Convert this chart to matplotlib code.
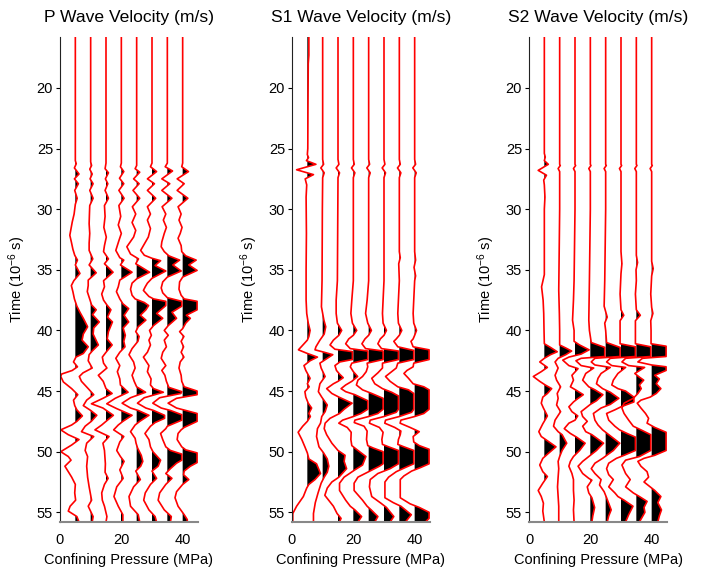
import numpy as np
import matplotlib
matplotlib.use('Agg')
import matplotlib.pyplot as plt

plt.rcParams.update({
    'font.family':      ['Liberation Sans', 'DejaVu Sans'],
    'font.size':        10.5,
    'mathtext.default': 'regular',
    'figure.facecolor': 'white',
    'axes.facecolor':   'white',
})

# confining pressure of each trace (MPa)
PRESSURES = [5, 10, 15, 20, 25, 30, 35, 40]

# ── P wave traces: (time in 1e-6 s, amplitude in MPa units) ────────────────
P_05 = [(15.8, 0), (26.0, 0), (26.25, 0.3), (26.6, -0.3), (27.1, 1.2), (27.5, -0.3), (27.9, 1.0), (28.45, -0.2),
        (29.1, 0.6), (29.6, 0), (30.4, -0.4), (31.05, -1.0), (31.6, -1.4), (32.15, -1.8), (32.7, -1.3), (33.3, -0.8),
        (33.8, -0.2), (34.2, 0.7), (34.6, 0), (35.3, 1.5), (35.9, -0.5), (36.3, -1.3), (36.8, -0.8), (37.4, -0.3),
        (38.0, 0.5), (38.5, 1.5), (39.0, 2.6), (39.7, 4.0), (40.3, 2.6), (40.8, 2.2), (41.35, 4.2), (41.9, 2.6),
        (42.2, 0.2), (42.6, -0.6), (43.0, 0.7), (43.3, -1.0), (43.6, -4.5), (43.8, -5.5), (44.25, -3.9), (44.8, -1.2),
        (45.3, 0.8), (45.75, -0.6), (46.2, -0.2), (46.55, 0.5), (47.05, 2.3), (47.5, 0.5), (47.8, -1.2), (48.2, -5.0),
        (48.6, -2.3), (49.0, 1.2), (49.45, -1.2), (50.0, -5.0), (50.4, -2.3), (50.7, -1.4), (51.2, -3.4), (52.1, -1.2),
        (52.7, 0), (53.4, -0.2), (54.0, 0.1), (54.5, -1.7), (54.9, -2.3), (55.35, 0.5), (55.8, 1.2)]
P_10 = [(15.8, 0), (26.1, 0), (26.4, 0.3), (26.7, -0.3), (27.1, 0.5), (27.5, -0.2), (27.9, 0.8), (28.45, -0.3),
        (29.1, 0.8), (29.7, -0.3), (30.4, -0.4), (31.2, -0.5), (32.0, -0.3), (32.8, -0.5), (33.4, -0.5), (34.1, 0.7),
        (34.6, -0.5), (35.25, 1.8), (35.85, -0.8), (36.3, -0.8), (36.8, -1.1), (37.5, -0.2), (37.9, 0.3), (38.3, 1.8),
        (38.7, 0.6), (39.3, 2.8), (39.8, 1.0), (40.3, 0.8), (41.2, 2.5), (41.7, 0.5), (42.0, -0.5), (42.5, -0.8),
        (43.1, 0.5), (43.5, -2.5), (43.8, -3.7), (44.2, -3.0), (44.8, -0.8), (45.3, 1.0), (45.75, -1.3), (46.2, -2.4),
        (46.6, 0), (47.0, 2.0), (47.5, 0.2), (47.9, -1.8), (48.35, -3.0), (48.75, 1.0), (49.3, -1.3), (49.9, -1.8),
        (50.4, -1.0), (51.2, -1.3), (52.1, -1.0), (52.9, -0.5), (54.0, 0.3), (54.5, -0.8), (55.35, 0.8), (55.8, 0.5)]
P_15 = [(15.8, 0), (26.2, 0), (26.66, -0.3), (27.0, 0.8), (27.5, -0.2), (27.9, 0.6), (28.45, -0.3), (29.1, 0.8),
        (29.7, -0.5), (30.6, -0.3), (31.5, -0.7), (32.3, 0.1), (33.0, -0.5), (33.5, -0.8), (34.1, 0.8), (34.5, -0.5),
        (35.2, 2.3), (35.9, -0.8), (36.4, -0.5), (37.0, -1.4), (37.5, -0.8), (37.9, 0.3), (38.3, 1.6), (38.9, 0.5),
        (39.3, 2.1), (40.1, 0.8), (40.7, 0.4), (41.2, 2.0), (41.8, 0), (42.2, -1.2), (42.7, -0.8), (43.1, 0.3),
        (43.7, -2.5), (44.2, -0.9), (44.8, 0), (45.2, 2.0), (45.6, -1.0), (46.05, -5.0), (46.4, -1.0), (47.0, 2.4),
        (47.5, 0), (47.8, -1.4), (48.2, -3.6), (48.75, 1.0), (49.3, -1.0), (49.9, -0.5), (51.0, -0.2), (51.7, -0.3),
        (52.2, 0.7), (52.7, -0.5), (53.4, -1.4), (54.0, -1.2), (54.5, -0.5), (55.35, 0.3), (55.8, 0)]
P_20 = [(15.8, 0), (26.2, 0), (26.5, -0.3), (26.9, 0.8), (27.45, -0.6), (27.9, 0.8), (28.45, -0.8), (29.1, 0.9),
        (29.7, -0.8), (30.6, -0.2), (31.3, -1.0), (32.0, 0), (32.6, -0.8), (33.4, -1.8), (34.0, -0.5), (34.2, 0.8),
        (34.6, -0.3), (35.2, 3.5), (35.85, -0.5), (36.4, -1.0), (36.8, -1.6), (37.4, -0.5), (37.8, 0.5), (38.2, 2.4),
        (38.75, 0.9), (39.3, 2.4), (39.8, 0.6), (40.4, 1.3), (40.9, 0.8), (41.35, 1.2), (41.8, -0.5), (42.3, -1.8),
        (42.9, -0.5), (43.4, -1.3), (44.0, -0.5), (44.5, -0.3), (45.1, 2.2), (45.6, -2.0), (46.05, -5.0), (46.45, -1.5),
        (47.0, 3.5), (47.5, 0.5), (47.8, -1.0), (48.2, -2.5), (48.75, 0.8), (49.2, -0.5), (49.9, -1.5), (50.4, -0.3),
        (50.8, 0.9), (51.5, -0.5), (52.2, 0.6), (52.9, -1.5), (53.7, -2.4), (54.5, -1.0), (55.2, 0.5), (55.8, 0.5)]
P_25 = [(15.8, 0), (26.4, 0), (26.66, -0.5), (26.95, 1.0), (27.5, -1.0), (27.9, 0.8), (28.45, -1.2), (29.1, 1.0),
        (29.8, -1.4), (30.4, -0.3), (31.1, -1.5), (31.75, -0.3), (32.3, -1.0), (33.1, -3.2), (33.7, -2.0), (34.1, 0.6),
        (34.5, -0.3), (35.2, 4.2), (35.75, 0), (36.1, -1.5), (36.6, -2.0), (37.1, -1.5), (37.4, -0.5), (37.7, 2.5),
        (37.95, 3.9), (38.3, 3.0), (38.75, 1.2), (39.15, 3.0), (39.7, 0.5), (40.1, -0.3), (40.5, 0.8), (40.9, 0.4),
        (41.5, -1.5), (42.0, -2.5), (42.6, -1.0), (43.1, -0.5), (43.7, -1.5), (44.2, -0.8), (44.65, 0), (45.1, 2.9),
        (45.55, -2.0), (46.0, -5.0), (46.4, -2.0), (46.6, 0.5), (47.0, 4.0), (47.5, 1.0), (47.8, -0.5), (48.35, -2.0),
        (48.9, -0.5), (49.3, -0.2), (49.7, 0.3), (50.3, 1.5), (50.8, 2.0), (51.2, 1.3), (51.6, -0.3), (52.3, 1.2),
        (52.9, -1.0), (53.7, -2.5), (54.5, -2.0), (55.2, 0.5), (55.8, 1.0)]
P_30 = [(15.8, 0), (26.2, 0), (26.5, -0.5), (26.9, 1.5), (27.5, -1.5), (27.9, 0.8), (28.45, -1.5), (29.1, 1.2),
        (29.8, -1.5), (30.4, -0.5), (30.9, -1.5), (31.6, -0.5), (32.3, -1.2), (33.4, -3.7), (33.8, -2.5), (34.05, 0),
        (34.25, 2.8), (34.65, 1.0), (35.1, 4.5), (35.7, 0), (36.1, -1.5), (36.4, -2.2), (36.7, -2.8), (37.2, -1.0),
        (37.4, 0.5), (37.6, 4.5), (37.95, 4.5), (38.6, 1.5), (39.0, 3.5), (39.6, 0.5), (40.0, -0.8), (40.4, -0.2),
        (40.8, -1.0), (41.2, -0.5), (41.8, -1.5), (42.2, -2.8), (42.9, -1.0), (43.4, -1.5), (44.0, -0.3), (44.5, -0.5),
        (44.8, 0.5), (45.1, 3.7), (45.55, -2.5), (46.0, -5.0), (46.4, -2.0), (46.6, 0.5), (47.0, 4.1), (47.25, 4.1),
        (47.6, 1.0), (47.9, -0.5), (48.5, -2.3), (49.0, -1.0), (49.6, -0.5), (50.0, 0.3), (50.7, 2.8), (51.2, 2.0),
        (51.6, 0), (52.2, 1.5), (52.7, -0.5), (53.4, -2.2), (54.0, -2.7), (54.8, -1.0), (55.35, 1.0), (55.8, 1.5)]
P_35 = [(15.8, 0), (26.2, 0), (26.5, -0.7), (26.85, 1.7), (27.5, -1.8), (27.9, 0.8), (28.45, -1.8), (29.1, 1.5),
        (29.8, -1.7), (30.4, -0.5), (30.9, -1.3), (31.5, -0.3), (32.0, -1.0), (32.7, -1.8), (33.1, -2.0), (33.5, -1.0),
        (33.85, 0.5), (34.2, 4.0), (34.6, 1.8), (35.1, 4.5), (35.6, 0), (36.0, -1.5), (36.5, -2.0), (36.9, -1.5),
        (37.3, 0), (37.6, 4.7), (38.0, 4.7), (38.5, 1.5), (39.0, 3.0), (39.6, 0.3), (40.0, -1.0), (40.4, 0.3),
        (40.8, -1.0), (41.35, -0.3), (41.8, -1.5), (42.3, -2.0), (42.9, -0.5), (43.3, -1.8), (43.7, -0.8), (44.2, -0.3),
        (44.7, 0.5), (45.05, 4.7), (45.2, 4.4), (45.55, -2.5), (46.0, -5.0), (46.4, -2.0), (46.6, 1.0), (46.95, 4.7),
        (47.4, 4.7), (47.9, 0), (48.1, -0.5), (48.5, -2.2), (49.0, -1.5), (49.6, -0.5), (49.9, 1.0), (50.2, 4.7),
        (50.7, 4.7), (50.95, 3.0), (51.4, 1.0), (51.8, -0.5), (52.2, 1.5), (52.7, -0.5), (53.4, -2.5), (54.0, -3.0),
        (54.8, -1.0), (55.35, 1.3), (55.8, 1.0)]
P_40 = [(15.8, 0), (26.2, 0), (26.5, -0.3), (26.9, 1.9), (27.5, -1.8), (27.9, 0.5), (28.45, -1.8), (29.1, 1.7),
        (29.8, -1.5), (30.4, -0.5), (30.9, -1.2), (31.5, -0.2), (32.0, -0.8), (32.4, -1.5), (33.0, -0.5), (33.5, -0.3),
        (33.85, 1.0), (34.2, 4.4), (34.6, 2.0), (35.05, 4.7), (35.6, 0), (36.0, -1.0), (36.6, -1.2), (37.1, -0.5),
        (37.4, 0.5), (37.6, 4.7), (38.3, 4.7), (38.75, 1.2), (39.0, 2.5), (39.4, 1.0), (39.85, 0), (40.1, -1.0),
        (40.5, 0.4), (40.9, -0.5), (41.35, 0.3), (41.8, -0.5), (42.2, 0.4), (42.6, -0.8), (43.1, -1.2), (43.7, -0.5),
        (44.2, -0.3), (44.65, 0.5), (45.0, 4.7), (45.3, 4.7), (45.6, -2.0), (46.0, -5.0), (46.4, -2.0), (46.6, 1.0),
        (46.85, 4.7), (47.5, 4.7), (48.0, 0.5), (48.2, -0.5), (48.5, -1.5), (49.0, -1.8), (49.6, -0.3), (49.85, 1.0),
        (50.1, 4.7), (50.9, 4.7), (51.2, 2.5), (51.6, 0.5), (51.9, 0.3), (52.3, 2.0), (52.7, 0), (53.3, -2.0),
        (53.8, -2.5), (54.5, -1.5), (55.2, 0.5), (55.6, 1.5), (55.8, 1.5)]

# ── S1 wave traces ─────────────────────────────────────────────────────────
S1_05 = [(15.8, 0.5), (17.3, 0.5), (18.0, 0.3), (22.0, 0.2), (25.0, 0.15), (25.5, 0), (25.75, 0.4), (26.0, -0.3),
         (26.3, 2.8), (26.75, -3.5), (27.15, 2.0), (27.5, -0.7), (28.0, -0.2), (29.0, -0.4), (32.0, -0.3), (35.0, -0.4),
         (37.5, -0.4), (38.6, -0.2), (39.4, 0.3), (40.0, 0.9), (40.5, 0.5), (40.8, 0), (41.3, -1.8), (41.6, -2.9),
         (41.9, 0), (42.2, 3.3), (42.5, 0.9), (42.9, -1.1), (43.3, -0.5), (43.95, 0.9), (44.4, 0), (44.65, 0.6),
         (45.05, -0.8), (45.5, -0.5), (46.0, 0.3), (46.4, 1.4), (46.85, 0.5), (47.1, 1.0), (47.5, 0), (47.9, -1.5),
         (48.4, -3.0), (49.0, -1.8), (49.6, -0.8), (50.1, 0), (50.6, 0.5), (51.0, 3.0), (51.8, 4.3), (52.3, 2.5),
         (52.7, 0.5), (53.0, -0.2), (53.7, -1.3), (54.5, -3.5), (55.1, -5.1), (55.8, -5.5)]
S1_10 = [(15.8, 0), (25.9, 0), (26.3, 0.3), (26.6, -0.6), (27.0, 0.5), (27.4, 0), (30.0, -0.1), (35.86, -0.2),
         (38.05, -0.4), (39.15, 0.4), (39.7, 1.0), (40.3, 0.5), (40.8, -0.9), (41.35, -2.2), (41.6, -2.5), (41.8, 0.5),
         (42.0, 3.3), (42.3, 1.5), (42.7, -0.9), (43.1, -0.5), (43.8, 0.8), (44.4, -0.9), (45.05, -1.4), (45.5, -0.3),
         (46.15, 1.5), (46.7, 0.8), (47.1, -0.3), (47.65, -0.7), (48.1, -1.7), (48.75, -2.0), (49.6, -1.2), (50.1, 0.3),
         (50.6, 1.5), (51.2, 2.0), (51.7, 1.5), (52.1, 0.5), (52.6, -0.5), (53.4, -1.5), (54.2, -2.4), (55.1, -3.0),
         (55.8, -3.0)]
S1_15 = [(15.8, 0), (25.9, 0), (26.3, 0.3), (26.6, -0.6), (27.0, 0.5), (27.4, 0), (35.9, -0.2), (37.5, -0.6),
         (38.6, -0.6), (39.4, -0.2), (40.0, 1.2), (40.4, 0.3), (40.8, -1.5), (41.2, -2.6), (41.55, -1.0), (41.75, 4.7),
         (42.4, 4.7), (42.6, 0.6), (42.9, -1.0), (43.3, -0.5), (43.6, 0.5), (43.9, 1.7), (44.2, 0), (44.4, -1.5),
         (44.8, -3.7), (45.2, -2.0), (45.5, 0.3), (46.0, 4.6), (46.5, 2.0), (46.85, 0.5), (47.25, -2.6), (47.65, -4.2),
         (48.1, -4.5), (48.6, -3.7), (49.3, -2.0), (49.9, 0), (50.3, 2.3), (50.8, 2.0), (51.4, 2.8), (52.1, 0.3),
         (52.5, -2.0), (53.0, -3.5), (53.6, -4.3), (54.5, -1.5), (55.1, -0.3), (55.5, 1.0), (55.8, 0.5)]
S1_20 = [(15.8, 0), (25.9, 0), (26.3, 0.3), (26.6, -0.6), (27.0, 0.5), (27.4, 0), (35.9, 0), (37.5, -0.5),
         (38.6, -0.8), (39.4, -0.3), (40.0, 1.1), (40.4, 0), (40.7, -1.5), (41.1, -2.5), (41.5, -1.0), (41.7, 4.7),
         (42.4, 4.7), (42.7, -0.5), (43.0, -1.0), (43.4, 0), (43.8, 1.4), (44.2, -0.5), (44.5, -2.5), (44.8, -4.0),
         (45.05, -2.5), (45.3, 0.5), (45.8, 4.7), (46.5, 4.7), (46.85, 2.5), (47.1, 0), (47.4, -3.5), (47.65, -4.9),
         (48.0, -2.0), (48.4, -0.7), (49.0, -0.8), (49.5, -0.5), (49.8, 1.0), (50.4, 4.1), (51.1, 3.0), (51.5, 0.5),
         (52.1, -3.0), (52.6, -4.5), (53.2, -4.5), (54.0, -2.5), (54.5, -1.0), (54.8, 0.5), (55.35, 2.7), (55.8, 1.5)]
S1_25 = [(15.8, 0), (25.9, 0), (26.3, 0.3), (26.6, -0.6), (27.0, 0.5), (27.4, 0), (35.9, 0), (37.5, -0.5),
         (38.6, -1.0), (39.4, -0.3), (40.0, 0.9), (40.4, 0), (40.7, -1.2), (41.1, -2.2), (41.5, -1.0), (41.7, 4.7),
         (42.4, 4.7), (42.7, -0.5), (43.0, -0.3), (43.4, -0.8), (43.8, -2.0), (44.1, -3.5), (44.5, -4.0), (44.9, -2.0),
         (45.2, 1.0), (45.6, 4.7), (46.5, 4.7), (46.85, 3.0), (47.1, 0), (47.4, -4.5), (47.6, -4.7), (47.9, -1.5),
         (48.3, -0.5), (49.0, -0.7), (49.5, -0.3), (49.7, 1.5), (50.0, 4.7), (51.0, 4.7), (51.2, 3.5), (51.65, 0),
         (52.1, -3.5), (52.6, -5.0), (53.2, -4.8), (54.0, -2.0), (54.5, -0.5), (54.8, 0.8), (55.35, 3.0), (55.8, 2.0)]
S1_30 = [(15.8, 0), (25.9, 0), (26.3, 0.3), (26.6, -0.6), (27.0, 0.5), (27.4, 0), (35.9, 0), (37.5, -0.3),
         (38.6, -0.5), (39.4, -0.3), (40.0, 0.8), (40.4, 0), (40.7, -1.2), (41.1, -2.0), (41.5, -0.8), (41.7, 4.7),
         (42.4, 4.7), (42.7, -0.5), (43.1, -0.5), (43.5, -2.0), (43.95, -4.0), (44.4, -3.0), (44.8, -0.5), (45.1, 2.5),
         (45.4, 4.7), (46.5, 4.7), (46.75, 4.0), (47.1, 0), (47.4, -4.5), (47.65, -5.5), (48.0, -1.5), (48.4, -0.3),
         (49.0, -0.7), (49.4, -0.5), (49.6, 1.5), (49.9, 4.7), (51.0, 4.7), (51.4, 2.0), (51.8, -2.0), (52.3, -4.5),
         (52.9, -5.0), (53.7, -4.0), (54.25, -1.0), (54.6, 0.8), (55.35, 3.2), (55.8, 2.0)]
S1_35 = [(15.8, 0), (25.9, 0), (26.3, 0.3), (26.6, -0.6), (27.0, 0.5), (27.4, 0), (33.5, 0), (34.0, 0.3),
         (34.5, -0.2), (35.9, 0), (37.5, -0.3), (38.6, -0.5), (39.4, -0.3), (40.0, 0.8), (40.4, 0), (40.7, -1.0),
         (40.9, -1.8), (41.35, -0.5), (41.65, 4.7), (42.4, 4.7), (42.7, -0.5), (43.1, -1.0), (43.5, -3.0), (43.8, -4.5),
         (44.2, -3.0), (44.65, -0.5), (44.9, 3.0), (45.2, 4.7), (46.5, 4.7), (46.75, 4.0), (47.1, 0), (47.4, -4.5),
         (47.65, -5.5), (48.0, -1.5), (48.3, 0.5), (48.6, 0.3), (49.0, -0.3), (49.4, -0.5), (49.6, 1.5), (49.9, 4.7),
         (51.0, 4.7), (51.3, 2.0), (51.65, -1.0), (52.1, -3.5), (52.5, -4.7), (53.8, -4.7), (54.2, -2.0), (54.5, 0.5),
         (55.2, 3.9), (55.8, 2.0)]
S1_40 = [(15.8, 0), (25.9, 0), (26.3, 0.3), (26.6, -0.6), (27.0, 0.5), (27.4, 0), (33.5, 0), (34.2, 0.3),
         (34.8, -0.2), (35.5, 0.3), (35.9, 0), (37.5, -0.3), (38.6, -0.5), (39.4, -0.3), (40.0, 0.6), (40.4, 0),
         (40.7, -0.5), (40.9, -1.2), (41.35, -0.5), (41.6, 4.7), (42.4, 4.7), (42.7, -0.3), (43.0, -0.5), (43.3, -2.5),
         (43.55, -3.5), (43.95, -2.0), (44.4, -0.5), (44.65, 3.0), (44.9, 4.7), (46.5, 4.7), (46.85, 3.0), (47.1, 0),
         (47.4, -4.5), (47.65, -5.5), (48.0, -1.5), (48.35, 1.5), (48.75, -0.5), (49.2, -0.3), (49.5, 1.5), (49.8, 4.7),
         (51.0, 4.7), (51.3, 2.0), (51.6, -1.0), (52.0, -3.5), (52.3, -4.7), (53.8, -4.7), (54.3, -1.5), (54.6, 1.5),
         (55.0, 4.7), (55.5, 4.7), (55.8, 3.5)]

# ── S2 wave traces ─────────────────────────────────────────────────────────
S2_05 = [(15.8, 0), (25.4, 0), (25.7, 0.3), (26.0, 0), (26.3, 1.3), (26.8, -2.0), (27.2, 0.7), (27.6, -0.2),
         (28.0, 0), (29.0, 0.2), (30.0, 0), (35.4, 0), (36.4, -0.9), (37.5, -0.4), (38.6, -0.2), (40.0, -0.1),
         (41.1, 0), (41.4, 2.0), (41.76, 4.2), (42.0, 2.0), (42.3, 0), (42.6, -1.5), (43.05, 1.0), (43.4, -1.0),
         (43.8, -3.6), (44.2, -1.5), (44.5, 0.3), (44.8, 2.4), (45.2, 1.0), (45.5, -0.5), (46.0, -1.0), (46.4, -0.3),
         (46.7, 0.3), (47.05, 1.0), (47.4, 0.2), (47.7, -0.5), (48.35, -1.8), (48.75, -1.0), (49.1, 1.0), (49.6, 3.8),
         (50.1, 1.5), (50.55, -0.5), (51.1, -1.5), (51.65, -0.5), (52.05, 1.0), (52.6, -0.5), (53.2, -2.0), (53.7, -1.0),
         (54.25, -0.3), (54.9, -0.5), (55.8, 0)]
S2_10 = [(15.8, 0), (26.3, 0), (26.4, 0.2), (26.65, -0.5), (26.9, 0), (30.0, 0), (36.7, -0.3), (38.6, -0.1),
         (40.0, 0), (41.2, 0), (41.45, 2.0), (41.7, 3.9), (42.0, 2.0), (42.3, -0.5), (42.6, -1.5), (43.1, -0.5),
         (43.7, -1.5), (44.1, -1.0), (44.65, 0.3), (45.2, -0.8), (45.6, -0.5), (46.15, -1.0), (46.7, 0.3), (47.4, -1.5),
         (47.9, -2.0), (48.35, -0.5), (48.6, 0.8), (49.3, 2.3), (49.9, 0.8), (50.4, 0), (50.8, -0.5), (51.4, -0.3),
         (52.1, -0.5), (52.9, -0.7), (53.7, -0.5), (54.5, -0.3), (55.8, -0.3)]
S2_15 = [(15.8, 0), (26.3, 0), (26.4, 0.2), (26.65, -0.5), (26.9, 0), (30.0, 0), (35.9, -0.3), (37.5, -0.5),
         (39.15, -0.8), (40.0, -0.3), (40.9, -0.3), (41.2, 1.5), (41.6, 4.6), (41.95, 2.0), (42.2, -2.0), (42.45, -4.0),
         (42.9, -2.0), (43.15, 1.0), (43.7, -1.0), (44.1, -0.5), (44.65, -1.5), (44.95, 0.5), (45.3, 2.7), (45.7, 0.5),
         (45.9, -0.5), (46.3, -2.0), (46.7, -1.0), (47.05, 0.9), (47.4, 0), (47.65, -2.0), (48.1, -3.5), (48.5, -1.5),
         (48.8, 0.5), (49.3, 3.3), (49.9, 1.5), (50.4, -0.5), (50.8, -1.5), (51.2, -2.0), (51.8, -1.0), (52.3, -0.5),
         (53.2, -0.5), (54.0, -0.3), (54.8, -0.5), (55.8, -0.3)]
S2_20 = [(15.8, 0), (26.3, 0), (26.4, 0.2), (26.65, -0.5), (26.9, 0), (30.0, 0), (35.9, -0.3), (39.15, -0.5),
         (40.0, -0.3), (41.0, 0.3), (41.4, 4.7), (42.15, 4.7), (42.3, -3.0), (42.5, -4.7), (42.9, -3.0), (43.1, 1.1),
         (43.55, -1.5), (44.1, -2.5), (44.65, -0.5), (44.9, 1.5), (45.3, 4.1), (45.8, 2.0), (46.1, 0), (46.3, -1.0),
         (46.7, -3.0), (47.1, -2.5), (47.5, -1.0), (47.9, -2.5), (48.35, -1.5), (48.6, 0.5), (49.3, 4.3), (49.9, 2.0),
         (50.4, -0.5), (50.8, -2.5), (51.2, -4.0), (51.8, -2.5), (52.2, -0.5), (52.35, 0.5), (52.9, -1.0), (53.4, -0.5),
         (53.8, 0.5), (54.6, 1.4), (55.3, 0.8), (55.8, 0.5)]
S2_25 = [(15.8, 0), (26.3, 0), (26.4, 0.2), (26.65, -0.5), (26.9, 0), (30.0, 0), (35.9, -0.3), (38.0, -0.5),
         (38.9, 0.5), (39.4, -0.3), (40.0, 0), (41.0, 0.3), (41.4, 4.7), (42.15, 4.7), (42.3, -3.5), (42.6, -4.7),
         (42.85, -3.5), (43.05, 1.5), (43.55, -1.5), (43.95, -2.5), (44.4, -3.0), (44.8, -1.0), (45.1, 1.5), (45.6, 4.3),
         (46.1, 1.5), (46.4, -1.5), (46.85, -4.0), (47.4, -3.5), (47.8, -2.5), (48.2, -1.0), (48.5, 0.5), (49.3, 4.6),
         (49.9, 2.5), (50.55, -1.0), (50.95, -3.5), (51.4, -4.7), (51.8, -3.5), (52.3, -1.5), (52.75, -2.0), (53.3, -0.5),
         (53.8, 0.3), (54.8, 1.8), (55.3, 1.0), (55.8, 0.5)]
S2_30 = [(15.8, 0), (26.3, 0), (26.4, 0.2), (26.65, -0.5), (26.9, 0), (30.0, 0), (33.5, 0), (34.5, 0.3),
         (35.3, 0), (37.0, -0.3), (38.3, 0), (38.75, 0.9), (39.2, -0.3), (40.0, -0.3), (41.1, -0.3), (41.35, 4.7),
         (42.15, 4.7), (42.3, -3.5), (42.6, -4.7), (42.9, -3.0), (43.05, 1.5), (43.55, -1.0), (44.1, -2.5), (44.5, -3.0),
         (44.8, -1.0), (45.0, 1.5), (45.5, 4.2), (45.9, 4.2), (46.3, 0), (46.55, -2.0), (46.85, -4.7), (47.4, -4.0),
         (47.9, -2.0), (48.2, -0.5), (48.5, 2.0), (48.8, 4.7), (49.9, 4.7), (50.3, 1.0), (50.55, -1.5), (50.95, -4.0),
         (51.4, -4.7), (51.9, -4.0), (52.3, -2.5), (52.9, -4.0), (53.4, -2.0), (53.7, -1.0), (54.0, 1.0), (54.5, 3.9),
         (55.2, 2.5), (55.8, 1.5)]
S2_35 = [(15.8, 0), (26.3, 0), (26.4, 0.2), (26.65, -0.5), (26.9, 0), (30.0, 0), (33.8, 0), (34.4, 0.4),
         (35.0, -0.1), (35.9, 0), (37.0, -0.3), (38.3, 0), (38.75, 1.3), (39.2, -0.3), (40.0, -0.3), (41.1, -0.3),
         (41.35, 4.7), (42.15, 4.7), (42.3, -3.5), (42.6, -4.7), (42.9, -2.5), (43.05, 2.7), (43.55, -0.5), (43.85, 1.0),
         (44.1, 2.4), (44.5, 1.0), (44.8, 1.6), (45.2, 0.5), (45.6, -1.0), (46.0, -4.0), (46.4, -4.7), (46.85, -4.0),
         (47.4, -2.5), (47.9, -1.0), (48.2, 1.5), (48.6, 4.7), (49.9, 4.7), (50.4, 1.0), (50.7, -3.5), (51.1, -4.7),
         (51.8, -3.5), (52.3, -2.0), (52.9, -3.5), (53.4, -1.0), (53.7, 1.0), (54.1, 3.5), (54.6, 2.5), (55.0, 2.8),
         (55.8, 1.0)]
S2_40 = [(15.8, 0), (26.3, 0), (26.4, 0.2), (26.65, -0.5), (26.9, 0), (30.0, 0), (34.3, 0), (34.9, 0.5),
         (35.5, 0), (37.0, -0.3), (38.1, 0), (38.6, 0.4), (39.2, -0.3), (40.0, -0.2), (41.1, -0.2), (41.3, 4.7),
         (42.15, 4.7), (42.3, -3.0), (42.6, -4.5), (42.85, 0), (43.0, 4.7), (43.3, 4.7), (43.7, 1.0), (44.0, 2.5),
         (44.4, 1.5), (44.8, 3.0), (45.2, 1.5), (45.5, -0.5), (45.75, -3.5), (46.0, -4.7), (46.4, -3.5), (46.85, -2.0),
         (47.25, -1.0), (47.65, -1.5), (48.0, 1.0), (48.4, 4.7), (49.9, 4.7), (50.3, 1.0), (50.55, -2.5), (50.8, -4.5),
         (51.2, -3.5), (51.65, -1.5), (52.1, -1.0), (52.5, -2.5), (52.9, -0.5), (53.2, 1.0), (53.7, 3.0), (54.2, 2.0),
         (54.8, 3.2), (55.3, 2.5), (55.8, 2.0)]

P_TRACES = [P_05, P_10, P_15, P_20, P_25, P_30, P_35, P_40]
S1_TRACES = [S1_05, S1_10, S1_15, S1_20, S1_25, S1_30, S1_35, S1_40]
S2_TRACES = [S2_05, S2_10, S2_15, S2_20, S2_25, S2_30, S2_35, S2_40]

TITLES = ['P Wave Velocity (m/s)', 'S1 Wave Velocity (m/s)', 'S2 Wave Velocity (m/s)']
CLIP = 4.75   # wiggle amplitude clip (MPa units)

W, H = 703, 576
fig = plt.figure(figsize=(W / 100, H / 100), dpi=100)
lefts = [60, 292, 529]


def draw_panel(ax, traces, title):
    for p, tr in zip(PRESSURES, traces):
        t = np.array([r[0] for r in tr])
        a = np.clip(np.array([r[1] for r in tr], dtype=float), -CLIP, CLIP)
        ax.fill_betweenx(t, p, p + a, where=a > 0, interpolate=True,
                         color='black', linewidth=0)
        ax.plot(p + a, t, color='red', linewidth=1.2)

    ax.set_xlim(0, 45)
    ax.set_ylim(55.8, 15.8)
    ax.set_xticks([0, 20, 40])
    ax.set_yticks(range(20, 56, 5))
    for s in ('top', 'right'):
        ax.spines[s].set_visible(False)
    ax.spines['left'].set_color('#222222')
    ax.spines['left'].set_linewidth(0.8)
    ax.spines['bottom'].set_color('#888888')
    ax.spines['bottom'].set_linewidth(1.5)
    ax.tick_params(axis='y', direction='out', length=3, width=0.8, pad=2)
    ax.tick_params(axis='x', length=0, pad=8)
    ax.set_title(title, pad=11)
    ax.set_xlabel('Confining Pressure (MPa)', labelpad=4)
    ax.set_ylabel('Time (10$^{-6}$ s)', labelpad=6)


for left, traces, title in zip(lefts, [P_TRACES, S1_TRACES, S2_TRACES], TITLES):
    ax = fig.add_axes([left / W, 54 / H, 138 / W, 485 / H])
    draw_panel(ax, traces, title)

fig.savefig('out.png', dpi=100)
